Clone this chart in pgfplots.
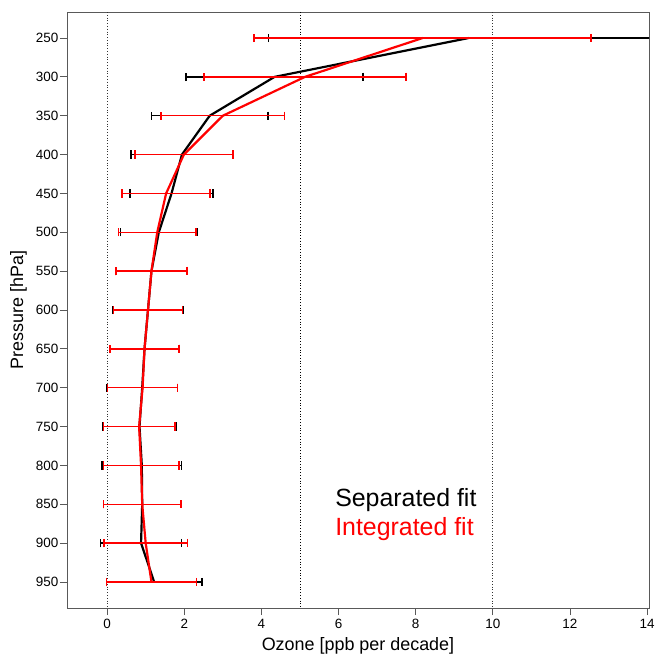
\documentclass[border=0pt]{standalone}
\usepackage{pgfplots}
\pgfplotsset{compat=1.18}
\usepackage{fontspec}
\setmainfont{Liberation Sans}
\begin{document}
\begin{tikzpicture}
\begin{axis}[
  at={(0,0)}, anchor=south west,
  scale only axis, width=582bp, height=596bp,
  xmin=-1.04, xmax=14.05, ymin=216.5, ymax=983.5,
  y dir=reverse,
  xtick={0,2,4,6,8,10,12,14},
  ytick={250,300,350,400,450,500,550,600,650,700,750,800,850,900,950},
  tick align=outside, xtick pos=bottom, ytick pos=left,
  major tick length=7bp,
  axis line style={black!65, line width=0.8pt},
  tick style={black!65, line width=0.8pt},
  /pgf/number format/assume math mode=true,
  ticklabel style={font=\fontsize{13.5}{14}\selectfont},
  yticklabel style={inner sep=1.5bp},
  xticklabel style={inner sep=4bp},
  xlabel={Ozone [ppb per decade]}, ylabel={Pressure [hPa]},
  label style={font=\fontsize{18}{20}\selectfont},
  xlabel style={yshift=-1bp},
  ylabel style={yshift=4bp},
  clip=true,
]
\draw[black!80, dotted, line width=0.8pt] (axis cs:0,216.5) -- (axis cs:0,983.5);
\draw[black, dotted, line width=0.8pt] (axis cs:5,216.5) -- (axis cs:5,983.5);
\draw[black!80, dotted, line width=0.8pt] (axis cs:10,216.5) -- (axis cs:10,983.5);

\addplot[black, line width=2.2pt, mark=none,
  error bars/.cd, x dir=both, x explicit,
  error bar style={line width=1.5pt, black},
  error mark options={rotate=90, line width=1.5pt, mark size=4.2pt, black}]
  table[x=x, y=y, x error=ex] {
x y ex
9.37 250 5.18
4.34 300 2.30
2.66 350 1.51
1.94 400 1.32
1.67 450 1.08
1.34 500 0.99
1.15 550 0.93
1.06 600 0.91
0.97 650 0.90
0.91 700 0.91
0.84 750 0.96
0.90 800 1.03
0.91 850 1.01
0.88 900 1.05
1.22 950 1.24
};

\addplot[red, line width=2.2pt, mark=none,
  error bars/.cd, x dir=both, x explicit,
  error bar style={line width=1.5pt, red},
  error mark options={rotate=90, line width=1.5pt, mark size=4.2pt, red}]
  table[x=x, y=y, x error=ex] {
x y ex
8.18 250 4.37
5.13 300 2.62
3.00 350 1.60
1.99 400 1.27
1.53 450 1.14
1.30 500 1.00
1.15 550 0.92
1.06 600 0.89
0.97 650 0.90
0.92 700 0.91
0.83 750 0.93
0.88 800 0.98
0.91 850 1.01
1.00 900 1.08
1.15 950 1.17
};

\node[anchor=base west, inner sep=0, font=\fontsize{25}{27}\selectfont, text=black] at (axis cs:5.91,853) {Separated fit};
\node[anchor=base west, inner sep=0, font=\fontsize{25}{27}\selectfont, text=red] at (axis cs:5.91,890) {Integrated fit};
\end{axis}
\pgfresetboundingbox
\path (-67bp,-47bp) rectangle (589bp,608bp);
\end{tikzpicture}
\end{document}
